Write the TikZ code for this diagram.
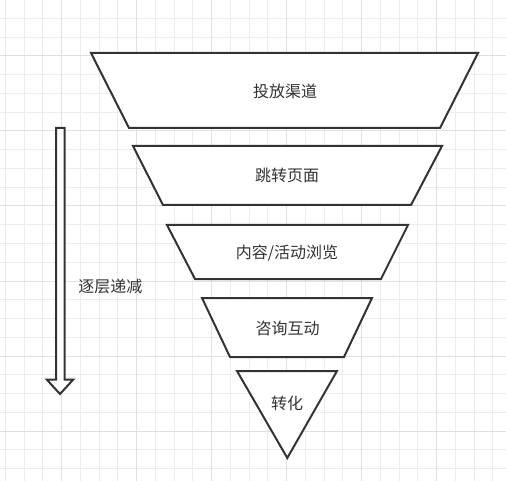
\documentclass[tikz,border=0pt]{standalone}
\usepackage{fontspec}
\setmainfont{Noto Sans CJK SC}
\begin{document}
\begin{tikzpicture}[x=1pt, y=-1pt, line join=miter,
    minor/.style = {draw=black!7, line width=1pt},
    major/.style = {draw=black!12, line width=1pt},
    stage/.style = {draw=black!80, line width=2pt, fill=white},
    txt/.style = {text=black!80, inner sep=0pt, font=\fontsize{16}{16}\selectfont}]
    \useasboundingbox (0,0) rectangle (506,481);
    \fill[white] (0,0) rectangle (506,481);
    % grid
    \foreach \i in {0,...,26} \draw[minor] ({5.45+18.75*\i},0) -- ({5.45+18.75*\i},481);
    \foreach \i in {1,...,25} \draw[minor] (0,{-0.25+18.75*\i}) -- (506,{-0.25+18.75*\i});
    \foreach \i in {0,...,5} \draw[major] ({61.7+75*\i},0) -- ({61.7+75*\i},481);
    \foreach \i in {0,...,5} \draw[major] (0,{56+75*\i}) -- (506,{56+75*\i});
    % funnel
    \draw[stage] (91,53) -- (478,53) -- (440,128) -- (129,128) -- cycle;
    \draw[stage] (133,146) -- (442,146) -- (411,205) -- (163,205) -- cycle;
    \draw[stage] (167,225) -- (408,225) -- (381,279) -- (195,279) -- cycle;
    \draw[stage] (202,298) -- (372,298) -- (344,357) -- (230,357) -- cycle;
    \draw[stage] (237,371) -- (337,371) -- (287.3,458) -- cycle;
    \node[txt] (l1) at (285,91.5) {投放渠道};
    \node[txt] (l2) at (287,175) {跳转页面};
    \node[txt] (l3) at (287,253) {内容/活动浏览};
    \node[txt] (l4) at (287.5,328) {咨询互动};
    \node[txt] (l5) at (287,403) {转化};
    % hollow arrow
    \draw[stage] (56,128) -- (64.5,128) -- (64.5,379.5) -- (73.3,379.5) -- (60,394)
        -- (46.7,379.5) -- (56,379.5) -- cycle;
    \node[txt] (dj) at (110.3,286.5) {逐层递减};
\end{tikzpicture}
\end{document}
